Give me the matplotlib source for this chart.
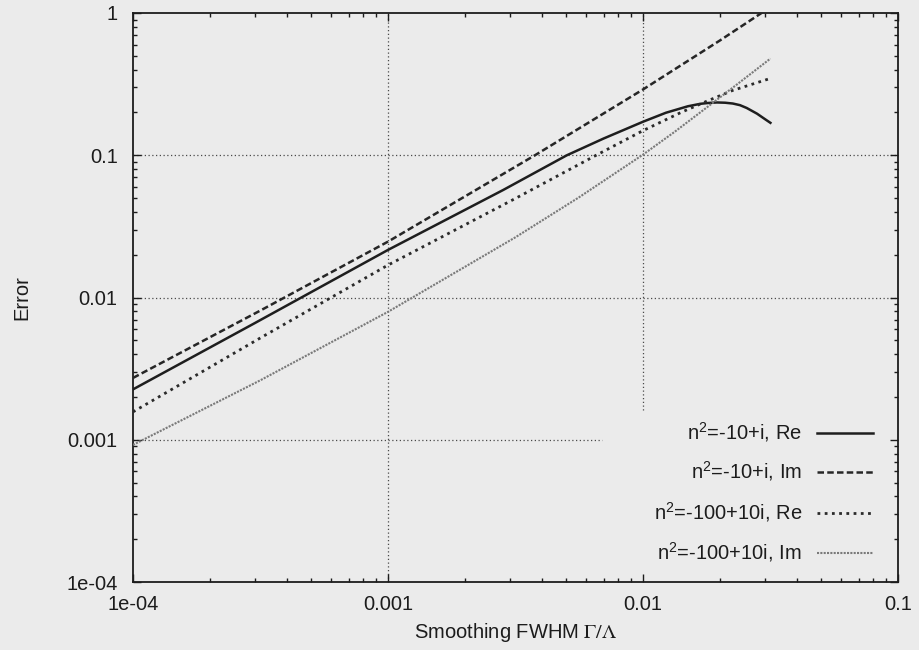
import numpy as np
import matplotlib
matplotlib.use("Agg")
import matplotlib.pyplot as plt
from matplotlib.lines import Line2D
from matplotlib.ticker import LogLocator, FixedFormatter, FixedLocator

# Curvas de error frente al suavizado
x_re1 = [1e-4, 3e-4, 1e-3, 2.83e-3, 5.03e-3, 7e-3, 0.010, 0.0123, 0.015, 0.0168, 0.018,
         0.0195, 0.021, 0.0225, 0.024, 0.0255, 0.028, 0.030, 0.0316]
y_re1 = [0.00226, 0.0066, 0.0216, 0.057, 0.100, 0.131, 0.172, 0.199, 0.221, 0.230, 0.233,
         0.235, 0.234, 0.231, 0.225, 0.215, 0.196, 0.180, 0.169]

x_im1 = [1e-4, 3.16e-4, 1e-3, 3.77e-3, 0.010, 0.020, 0.0316]
y_im1 = [0.00272, 0.0081, 0.0247, 0.100, 0.290, 0.640, 1.10]

x_re2 = [1e-4, 3.16e-4, 1e-3, 3.16e-3, 0.00655, 0.010, 0.0141, 0.0178, 0.0224, 0.0316]
y_re2 = [0.00157, 0.0052, 0.0169, 0.0497, 0.100, 0.149, 0.200, 0.240, 0.285, 0.347]

x_im2 = [1e-4, 3.16e-4, 1e-3, 2e-3, 3.16e-3, 5.6e-3, 0.010, 0.0133, 0.0178, 0.0237, 0.0316]
y_im2 = [0.00092, 0.00262, 0.00793, 0.0164, 0.0265, 0.0505, 0.101, 0.146, 0.217, 0.321, 0.478]

labels = [r"n$^{\mathrm{2}}$=-10+i, Re", r"n$^{\mathrm{2}}$=-10+i, Im",
          r"n$^{\mathrm{2}}$=-100+10i, Re", r"n$^{\mathrm{2}}$=-100+10i, Im"]

x_ticks = [1e-4, 1e-3, 1e-2, 1e-1]
x_ticklabels = ["1e-04", "0.001", "0.01", "0.1"]
y_ticks = [1e-4, 1e-3, 1e-2, 1e-1, 1]
y_ticklabels = ["1e-04", "0.001", "0.01", "0.1", "1"]

plt.rcParams['font.family'] = ['Liberation Sans', 'DejaVu Sans']
plt.rcParams['mathtext.fontset'] = 'custom'
plt.rcParams['mathtext.rm'] = 'Liberation Sans'
plt.rcParams['mathtext.it'] = 'Liberation Sans:italic'

bg = '#ebebeb'
ink = '#1c1c1c'
fs = 14.5

fig = plt.figure(figsize=(9.19, 6.5), dpi=100, facecolor=bg)
ax = fig.add_axes([133 / 919, 68 / 650, 765 / 919, 569 / 650], facecolor=bg)

styles = [
    dict(color='#1e1e1e', lw=1.8, linestyle='-'),
    dict(color='#262626', lw=1.8, linestyle=(0, (2.6, 1.3))),
    dict(color='#2a2a2a', lw=2.0, linestyle=(0, (1.0, 1.6))),
    dict(color='#7a7a7a', lw=1.5, linestyle=(0, (1.0, 0.6))),
]
series = [(x_re1, y_re1), (x_im1, y_im1), (x_re2, y_re2), (x_im2, y_im2)]
for (xs, ys), st in zip(series, styles):
    ax.plot(xs, ys, zorder=3, **st)

ax.set_xscale('log')
ax.set_yscale('log')
ax.set_xlim(1e-4, 0.1)
ax.set_ylim(1e-4, 1)

ax.xaxis.set_major_locator(FixedLocator(x_ticks))
ax.xaxis.set_major_formatter(FixedFormatter(x_ticklabels))
ax.yaxis.set_major_locator(FixedLocator(y_ticks))
ax.yaxis.set_major_formatter(FixedFormatter(y_ticklabels))
ax.xaxis.set_minor_locator(LogLocator(base=10, subs=np.arange(2, 10), numticks=20))
ax.yaxis.set_minor_locator(LogLocator(base=10, subs=np.arange(2, 10), numticks=20))
ax.xaxis.set_minor_formatter(plt.NullFormatter())
ax.yaxis.set_minor_formatter(plt.NullFormatter())

ax.tick_params(which='both', direction='in', top=True, right=True, color=ink,
               labelcolor=ink, labelsize=fs)
ax.tick_params(which='major', length=6, width=1.0)
ax.tick_params(which='minor', length=3, width=1.0)
ax.tick_params(axis='y', which='major', pad=11)
ax.tick_params(axis='x', which='major', pad=9.5)
for sp in ax.spines.values():
    sp.set_color(ink)
    sp.set_linewidth(1.3)

# Rejilla punteada; la zona de la leyenda queda libre
key_x0 = (602 - 133) / 765
key_y1 = (582 - 410) / 569
grid_kw = dict(color='#4a4a4a', lw=0.9, linestyle=(0, (1, 2)), zorder=1)
ax.axhline(0.1, **grid_kw)
ax.axhline(0.01, **grid_kw)
ax.axhline(0.001, xmax=key_x0, **grid_kw)
ax.axvline(0.001, **grid_kw)
ax.axvline(0.01, ymin=key_y1, **grid_kw)

ax.set_xlabel(r"Smoothing FWHM $\Gamma/\Lambda$", fontsize=fs, color=ink,
              labelpad=5, math_fontfamily='stix')
ax.set_ylabel("Error", fontsize=fs, color=ink, labelpad=25)

# Leyenda con el texto alineado a la derecha
rows = [433, 472, 513, 553]
for lab, st, ry in zip(labels, styles, rows):
    yf = (582 - ry) / 569
    ax.text((802 - 133) / 765, yf - 6 / 569, lab, transform=ax.transAxes,
            ha='right', va='baseline', fontsize=fs, color=ink)
    ax.add_line(Line2D([(817 - 133) / 765, (873 - 133) / 765], [yf, yf],
                       transform=ax.transAxes, **st))

fig.savefig('out.png', dpi=100, facecolor=bg)
